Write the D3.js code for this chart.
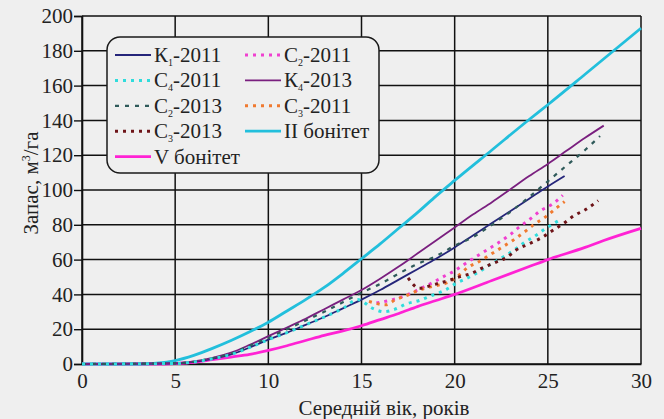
<!DOCTYPE html>
<html>
<head>
<meta charset="utf-8">
<script src="https://cdn.jsdelivr.net/npm/d3@7/dist/d3.min.js"></script>
<style>
  html, body { margin: 0; padding: 0; background: #efefef; }
  svg { display: block; }
  svg text { font-family: "Liberation Serif", "Times New Roman", Times, "DejaVu Serif", "Noto Serif", serif !important; fill: #222; }
</style>
</head>
<body>
<svg id="chart" width="664" height="419"></svg>
<script>
// ---- Data ----
const xTicks = [0, 5, 10, 15, 20, 25, 30];
const yTicks = [0, 20, 40, 60, 80, 100, 120, 140, 160, 180, 200];

const ageII = [0, 3, 4, 5, 6, 7, 8, 9, 10, 11, 12, 13, 14, 15, 16, 17, 18, 19, 20, 22, 24, 25, 27, 30];
const volII = [0, 0, 0.5, 2, 5, 9, 13.5, 18.5, 24, 30.5, 37, 44, 52, 60.5, 69, 78, 87, 96.5, 105.5, 123, 140.5, 149, 166.5, 193];

const ageV = [0, 4, 5, 6, 7, 8, 9, 10, 11, 12, 13, 14, 15, 16, 17, 18, 19, 20, 22, 24, 25, 27, 28, 30];
const volV = [0, 0, 0.3, 1, 2.5, 4, 5.5, 7.8, 10.5, 13.5, 16.5, 19, 22, 25.5, 29, 33, 36.5, 40, 48, 56, 60, 67, 71, 78];

const ageK1 = [0, 5, 6, 7, 8, 9, 10, 11, 12, 13, 14, 15, 16, 17, 18, 19, 20, 21, 22, 23, 24, 25, 25.9];
const volK1 = [0, 0.3, 1.2, 3, 5.5, 9.5, 14, 18, 22.5, 27, 32, 37, 42.5, 48.5, 54.5, 60.5, 67, 74, 81, 88, 95, 102, 108];

const ageK4 = [0, 5, 6, 7, 8, 9, 10, 11, 12, 13, 14, 15, 16, 17, 18, 19, 20, 21, 22, 23, 24, 25, 26, 27, 28];
const volK4 = [0, 0.5, 1.5, 3.5, 6.5, 11, 16, 21, 26, 31.5, 37, 42.5, 49, 56, 63.5, 71, 78.5, 86, 93, 100.5, 108, 115, 122.5, 130, 137];

const ageC2_2013 = [0, 5, 6, 7, 8, 9, 10, 11, 12, 13, 14, 15, 16, 17, 18, 19, 20, 21, 22, 23, 24, 25, 26, 27, 27.8];
const volC2_2013 = [0, 0.4, 1.3, 3.3, 6, 10.5, 15, 20, 25, 30, 35.5, 41, 46, 52, 57.5, 62, 68, 73, 80, 87.5, 96, 105, 114, 123, 131];

const ageC4_2011 = [0, 5, 6, 7, 8, 9, 10, 11, 12, 13, 14, 14.8, 15.6, 16.2, 16.8, 17.4, 18.1, 18.8, 19.5, 20.1, 20.7, 21.3, 21.9, 22.6, 23.2, 23.7, 24.3, 24.9, 25.6];
const volC4_2011 = [0, 0.3, 1.2, 3, 5.5, 9.5, 14, 18, 22.5, 27, 32, 37, 32, 30, 31.5, 34.5, 36.5, 39.5, 42.5, 46.5, 49.5, 53, 57, 61.5, 65.5, 69.5, 73.5, 78, 82.5];

const ageC2_2011 = [15.8, 16.5, 17.4, 18.1, 18.8, 19.4, 20.0, 20.6, 21.2, 21.8, 22.35, 23, 23.5, 24.05, 24.6, 25.3, 25.8];
const volC2_2011 = [35, 36.5, 39.5, 43, 46.7, 50.2, 53.6, 57.9, 62, 66, 69.7, 74.5, 79, 83.3, 88, 92.3, 97];

const ageC3_2011 = [15.4, 16.3, 16.8, 17.4, 18.1, 18.9, 19.6, 20.1, 20.7, 21.3, 21.9, 22.5, 23.1, 23.7, 24.3, 24.9, 25.5, 25.9];
const volC3_2011 = [36, 34, 36.8, 39.3, 42.5, 44.8, 46.7, 49.8, 55.5, 58.8, 62.8, 66.8, 70.9, 75.5, 80.5, 84.7, 90, 93.3];

const ageC3_2013 = [17.5, 18.1, 18.8, 19.6, 20.3, 20.9, 21.5, 22.2, 22.8, 23.3, 24.05, 24.7, 25.3, 25.85, 26.4, 27.05, 27.7];
const volC3_2013 = [49.5, 43.5, 45.4, 47.7, 50.2, 52.1, 55.3, 58.4, 61.3, 65.5, 69.3, 72.8, 77, 80.8, 85.2, 88.9, 93.9];

// ---- Build series table ----
const series = [
  { base: "К", sub: "1", rest: "-2011", ages: ageK1, vols: volK1, color: "#25257a", width: 1.8, dash: null },
  { base: "С", sub: "2", rest: "-2011", ages: ageC2_2011, vols: volC2_2011, color: "#f040d0", width: 3, dash: "3,5" },
  { base: "С", sub: "4", rest: "-2011", ages: ageC4_2011, vols: volC4_2011, color: "#30dcdc", width: 3, dash: "3,5" },
  { base: "К", sub: "4", rest: "-2013", ages: ageK4, vols: volK4, color: "#7a1f7f", width: 1.8, dash: null },
  { base: "С", sub: "2", rest: "-2013", ages: ageC2_2013, vols: volC2_2013, color: "#2f5a5a", width: 2.2, dash: "4,6" },
  { base: "С", sub: "3", rest: "-2011", ages: ageC3_2011, vols: volC3_2011, color: "#f07a30", width: 3, dash: "3,5" },
  { base: "С", sub: "3", rest: "-2013", ages: ageC3_2013, vols: volC3_2013, color: "#6e1418", width: 3, dash: "3,5" },
  { base: "II бонітет", sub: "", rest: "", ages: ageII, vols: volII, color: "#22bfdc", width: 2.8, dash: null },
  { base: "V бонітет", sub: "", rest: "", ages: ageV, vols: volV, color: "#ff22d4", width: 2.8, dash: null }
];

const FONT = '"Liberation Serif", "Times New Roman", Times, "DejaVu Serif", serif';
const svg = d3.select("#chart");
const x = d3.scaleLinear().domain([0, 30]).range([82, 641]);
const y = d3.scaleLinear().domain([0, 200]).range([364, 16]);

// grid
const grid = svg.append("g");
grid.selectAll("line.v").data(xTicks).join("line")
  .attr("x1", d => x(d)).attr("x2", d => x(d))
  .attr("y1", y(0)).attr("y2", y(200))
  .attr("stroke", "#111").attr("stroke-width", 1.5);
grid.selectAll("line.h").data(yTicks).join("line")
  .attr("x1", x(0)).attr("x2", x(30))
  .attr("y1", d => y(d)).attr("y2", d => y(d))
  .attr("stroke", "#111").attr("stroke-width", 1.5);

// axes
const yAxis = d3.axisLeft(y).tickValues(yTicks).tickSize(8).tickPadding(1).tickFormat(d3.format("d"));
const gy = svg.append("g").attr("transform", `translate(${x(0)},0)`).call(yAxis);
gy.attr("font-family", FONT).attr("font-size", 21);
gy.select(".domain").attr("stroke", "#111").attr("stroke-width", 1.6);
gy.selectAll(".tick line").attr("stroke", "#111").attr("stroke-width", 1.4);
gy.selectAll(".tick text").attr("fill", "#222");

const xAxis = d3.axisBottom(x).tickValues(xTicks).tickSize(0).tickPadding(9).tickFormat(d3.format("d"));
const gx = svg.append("g").attr("transform", `translate(0,${y(0)})`).call(xAxis);
gx.attr("font-family", FONT).attr("font-size", 21);
gx.select(".domain").attr("stroke", "#111").attr("stroke-width", 1.6);
gx.selectAll(".tick text").attr("fill", "#222");

// lines
const line = d3.line().x(d => x(d[0])).y(d => y(d[1])).curve(d3.curveMonotoneX);
const drawOrder = [8, 7, 0, 3, 4, 2, 1, 5, 6];
drawOrder.forEach(i => {
  const s = series[i];
  const pts = s.ages.map((a, k) => [a, s.vols[k]]);
  svg.append("path").datum(pts)
    .attr("d", line)
    .attr("fill", "none")
    .attr("stroke", s.color)
    .attr("stroke-width", s.width)
    .attr("stroke-dasharray", s.dash)
    .attr("stroke-linecap", "butt");
});

// legend
const lg = svg.append("g").attr("font-family", FONT);
lg.append("rect").attr("x", 107).attr("y", 37).attr("width", 272).attr("height", 136)
  .attr("rx", 13).attr("ry", 13)
  .attr("fill", "#efefef").attr("stroke", "#1a1a1a").attr("stroke-width", 1.5);

const legendPos = [[0, 0], [1, 0], [0, 1], [1, 1], [0, 2], [1, 2], [0, 3], [1, 3], [0, 4]];
const colX = [115, 245];
const rowY = d3.range(5).map(r => 55 + r * 25.4);
series.forEach((s, i) => {
  const [c, r] = legendPos[i];
  const lx = colX[c], ly = rowY[r];
  lg.append("line").attr("x1", lx).attr("x2", lx + 36).attr("y1", ly).attr("y2", ly)
    .attr("stroke", s.color).attr("stroke-width", s.width)
    .attr("stroke-dasharray", s.dash);
  const t = lg.append("text").attr("x", lx + 39).attr("y", ly + 7)
    .attr("font-size", 21);
  t.append("tspan").text(s.base);
  if (s.sub) {
    t.append("tspan").text(s.sub).attr("font-size", 10).attr("dy", 4);
    t.append("tspan").text(s.rest).attr("dy", -4);
  }
});

// axis titles
const yt = svg.append("text")
  .attr("transform", `translate(38,${y(104)}) rotate(-90)`)
  .attr("text-anchor", "middle")
  .attr("font-family", FONT)
  .attr("font-size", 21);
yt.append("tspan").text("Запас, м");
yt.append("tspan").text("3").attr("font-size", 12).attr("dy", -8);
yt.append("tspan").text("/га").attr("dy", 8);

svg.append("text").attr("x", 384).attr("y", 415).attr("text-anchor", "middle")
  .attr("font-family", FONT).attr("font-size", 21).text("Середній вік, років");
</script>
</body>
</html>
